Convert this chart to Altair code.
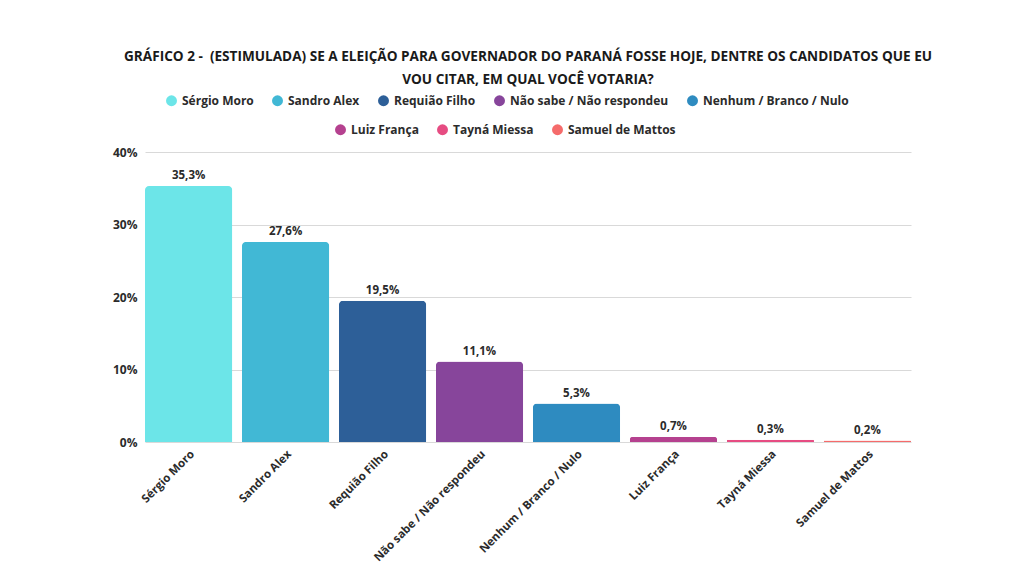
import altair as alt
import pandas as pd

# dados
candidatos = ["Sérgio Moro", "Sandro Alex", "Requião Filho", "Não sabe / Não respondeu",
              "Nenhum / Branco / Nulo", "Luiz França", "Tayná Miessa", "Samuel de Mattos"]
percentuais = [35.3, 27.6, 19.5, 11.1, 5.3, 0.7, 0.3, 0.2]
cores = ["#6ce5e8", "#41b8d5", "#2d5f98", "#87459b", "#2e8bc0", "#b5418f", "#e64c82", "#f56b6b"]
ticks_y = [0, 10, 20, 30, 40]

titulo = ["GRÁFICO 2 -\u00a0 (ESTIMULADA) SE A ELEIÇÃO PARA GOVERNADOR DO PARANÁ FOSSE HOJE, DENTRE OS CANDIDATOS QUE EU",
          "VOU CITAR, EM QUAL VOCÊ VOTARIA?"]

df = pd.DataFrame({"candidato": candidatos, "pct": percentuais})

FONTE = "Open Sans"
TXT = "#2b2b2b"


def legenda(x, y):
    return alt.Legend(title=None, orient="none", direction="horizontal",
                      legendX=x, legendY=y, symbolType="circle",
                      symbolSize=120, labelFont=FONTE, labelFontWeight="bold",
                      labelFontSize=12, labelColor=TXT, columnPadding=17,
                      padding=0)


base = alt.Chart(df).encode(
    x=alt.X("candidato:N", sort=candidatos, title=None,
            scale=alt.Scale(paddingInner=0.1, paddingOuter=0.0),
            axis=alt.Axis(labelAngle=-45, labelFont=FONTE, labelFontWeight="bold",
                          labelFontSize=11.5, labelColor=TXT, ticks=False, domain=False,
                          labelPadding=6)),
    y=alt.Y("pct:Q", title=None,
            scale=alt.Scale(domain=[0, 40]),
            axis=alt.Axis(values=ticks_y, labelExpr="datum.value + '%'", labelFont=FONTE,
                          labelFontWeight="bold", labelFontSize=12, labelColor=TXT,
                          ticks=False, domain=False, labelPadding=8,
                          gridColor="#d9d9d9", gridWidth=1)),
)

barras1 = base.transform_filter(
    alt.FieldOneOfPredicate(field="candidato", oneOf=candidatos[:5])
).mark_bar(cornerRadiusTopLeft=4, cornerRadiusTopRight=4).encode(
    color=alt.Color("candidato:N", sort=candidatos[:5],
                    scale=alt.Scale(domain=candidatos[:5], range=cores[:5]),
                    legend=legenda(20, -58))
)

barras2 = base.transform_filter(
    alt.FieldOneOfPredicate(field="candidato", oneOf=candidatos[5:])
).mark_bar(cornerRadiusTopLeft=4, cornerRadiusTopRight=4).encode(
    color=alt.Color("candidato:N", sort=candidatos[5:],
                    scale=alt.Scale(domain=candidatos[5:], range=cores[5:]),
                    legend=legenda(189, -29))
)

rotulos = base.transform_calculate(
    rotulo="replace(format(datum.pct, '.1f'), '.', ',') + '%'"
).mark_text(baseline="bottom", dy=-5, font=FONTE, fontWeight="bold",
            fontSize=11.5, color=TXT).encode(text="rotulo:N")

chart = alt.layer(barras1, barras2, rotulos).resolve_scale(color="independent").properties(
    width=766,
    height=290,
    title=alt.TitleParams(titulo, font=FONTE, fontSize=13.6, fontWeight="bold", color="#1a1a1a",
                          anchor="middle", lineHeight=23, offset=7),
    autosize=alt.AutoSizeParams(type="none"),
    padding={"left": 137, "top": 144, "right": 105, "bottom": 124},
    background="white",
).configure_view(stroke=None)

chart.save("out.html", embed_options={"renderer": "svg", "actions": False})
